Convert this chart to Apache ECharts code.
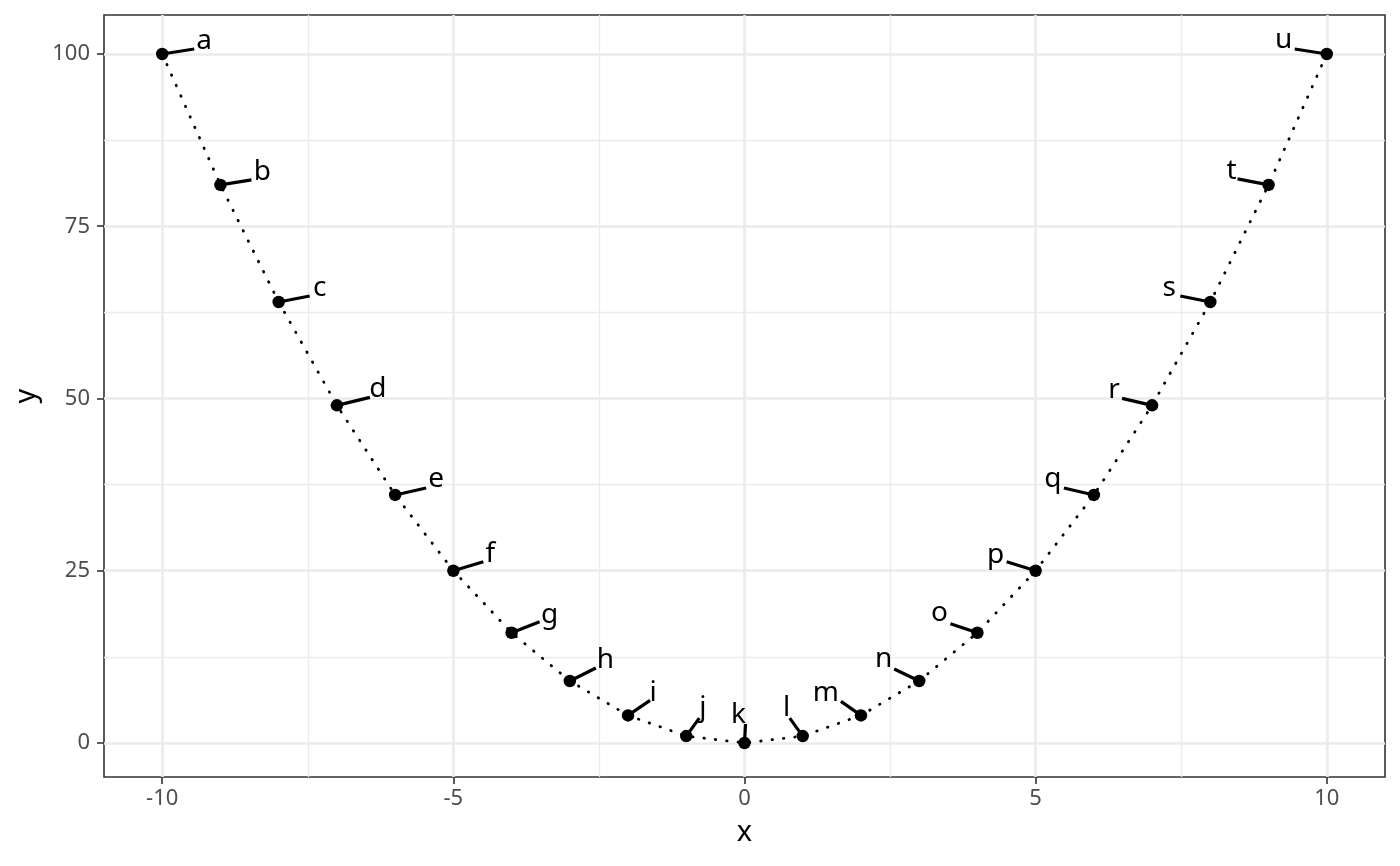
<!DOCTYPE html>
<html>
<head>
<meta charset="utf-8">
<script src="https://cdn.jsdelivr.net/npm/echarts@6/dist/echarts.min.js"></script>
<style>
html,body{margin:0;padding:0;background:#ffffff;}
#chart{width:1400px;height:866px;}
</style>
</head>
<body>
<div id="chart"></div>
<script>
// ---- data ----
const xValues = [-10, -9, -8, -7, -6, -5, -4, -3, -2, -1, 0, 1, 2, 3, 4, 5, 6, 7, 8, 9, 10];
const yValues = [100, 81, 64, 49, 36, 25, 16, 9, 4, 1, 0, 1, 4, 9, 16, 25, 36, 49, 64, 81, 100];
const pointLabels = ['a','b','c','d','e','f','g','h','i','j','k','l','m','n','o','p','q','r','s','t','u'];
const xTicks = [-10, -5, 0, 5, 10];
const xMinorTicks = [-7.5, -2.5, 2.5, 7.5];
const yTicks = [0, 25, 50, 75, 100];
const yMinorTicks = [12.5, 37.5, 62.5, 87.5];

// ---- layout of the repelled labels (pixel nudges from each point) ----
const labelNudge = [[42,-5],[42,-5],[41,-6],[41,-8],[41,-8],[37,-9],[38,-10],[35.5,-13],[25,-15],[16.5,-20],[-6,-20],
                    [-16,-20],[-35,-15],[-35.5,-14],[-38,-12],[-40,-8],[-41,-8],[-38,-7],[-41,-6],[-37,-6],[-43,-6]];
const segmentNudge = [[32,-5],[31,-5],[31,-6],[33,-8],[31,-7],[30,-9],[28,-11],[26,-13],[22,-15],[13,-18],[1,-19],
                      [-13,-18],[-20,-14],[-25,-12],[-27,-9],[-29,-9],[-30,-7],[-30,-7],[-30,-6],[-31,-6],[-32,-5]];

const FONT = '"Noto Sans", "DejaVu Sans", sans-serif';
const LABEL_FS = 28;

const points = xValues.map((x, i) => [x, yValues[i]]);

const chart = echarts.init(document.getElementById('chart'), null, {renderer: 'canvas'});

const hiddenAxisBits = {
  axisLine: {show: false, onZero: false},
  axisTick: {show: false},
  axisLabel: {show: false}
};

const option = {
  animation: false,
  backgroundColor: '#ffffff',
  grid: {
    left: 104, right: 15, top: 15, bottom: 89,
    show: true, borderColor: '#333333', borderWidth: 1.6, backgroundColor: 'transparent'
  },
  xAxis: [
    {
      type: 'value', min: -11, max: 11, position: 'bottom',
      axisLine: {show: false, onZero: false},
      axisTick: {show: true, customValues: xTicks, length: 7, lineStyle: {color: '#333333', width: 1.6}},
      axisLabel: {customValues: xTicks, color: '#4d4d4d', fontSize: 22, fontFamily: FONT, margin: 11},
      splitLine: {show: true, lineStyle: {color: '#ebebeb', width: 2.6}},
      name: 'x', nameLocation: 'middle', nameGap: 41,
      nameTextStyle: {fontSize: 29, color: '#000000', fontFamily: FONT}
    },
    Object.assign({
      type: 'value', min: -11, max: 11, position: 'bottom',
      splitLine: {show: true, lineStyle: {color: '#ebebeb', width: 1.3}}
    }, hiddenAxisBits, {axisTick: {show: false, customValues: xMinorTicks}})
  ],
  yAxis: [
    {
      type: 'value', min: -4.94, max: 105.66, position: 'left',
      axisLine: {show: false, onZero: false},
      axisTick: {show: true, customValues: yTicks, length: 7, lineStyle: {color: '#333333', width: 1.6}},
      axisLabel: {customValues: yTicks, color: '#4d4d4d', fontSize: 22, fontFamily: FONT, margin: 14},
      splitLine: {show: true, lineStyle: {color: '#ebebeb', width: 2.6}},
      name: 'y', nameLocation: 'middle', nameGap: 60, nameRotate: 90,
      nameTextStyle: {fontSize: 29, color: '#000000', fontFamily: FONT}
    },
    Object.assign({
      type: 'value', min: -4.94, max: 105.66, position: 'left',
      splitLine: {show: true, lineStyle: {color: '#ebebeb', width: 1.3}}
    }, hiddenAxisBits, {axisTick: {show: false, customValues: yMinorTicks}})
  ],
  series: [
    {
      type: 'line', data: points, xAxisIndex: 0, yAxisIndex: 0,
      showSymbol: false, symbol: 'none', smooth: false,
      lineStyle: {color: '#000000', width: 2.8, type: [0.5, 10.93], cap: 'round', opacity: 1},
      z: 2
    },
    {
      type: 'scatter', data: points, xAxisIndex: 0, yAxisIndex: 0,
      symbol: 'circle', symbolSize: 12.5,
      itemStyle: {color: '#000000', opacity: 1},
      emphasis: {disabled: true},
      z: 3
    },
    {
      type: 'custom', data: points, xAxisIndex: 0, yAxisIndex: 0,
      encode: {x: 0, y: 1},
      z: 4,
      renderItem: function (params, api) {
        const i = params.dataIndex;
        const p = api.coord([api.value(0), api.value(1)]);
        const s = segmentNudge[i];
        const t = labelNudge[i];
        return {
          type: 'group',
          children: [
            {
              type: 'line',
              shape: {x1: p[0], y1: p[1], x2: p[0] + s[0], y2: p[1] + s[1]},
              style: {stroke: '#000000', lineWidth: 3.2}
            },
            {
              type: 'text',
              style: {
                text: pointLabels[i],
                x: p[0] + t[0],
                y: p[1] + t[1] - 0.28 * LABEL_FS,
                align: 'center', verticalAlign: 'middle',
                fontSize: LABEL_FS, fontFamily: FONT, fill: '#000000'
              }
            }
          ]
        };
      }
    }
  ]
};

chart.setOption(option);
</script>
</body>
</html>
